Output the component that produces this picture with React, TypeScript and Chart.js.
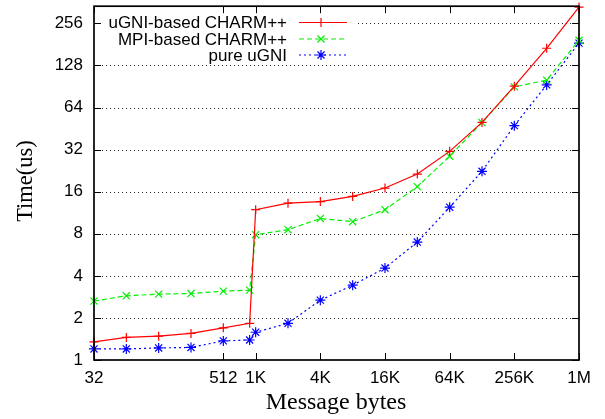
import React, { useEffect, useRef } from "react";
import { Chart, registerables } from "chart.js";
Chart.register(...registerables);

const messageBytes = [32, 64, 128, 256, 512, 900, 1024, 2048, 4096, 8192, 16384, 32768, 65536, 131072, 262144, 524288, 1048576];
const ugniCharm = [1.35, 1.45, 1.48, 1.55, 1.7, 1.83, 11.9, 13.25, 13.6, 14.8, 17.0, 21.4, 31.1, 50.1, 91, 170, 335];
const mpiCharm = [2.64, 2.88, 2.96, 2.99, 3.11, 3.16, 7.88, 8.56, 10.3, 9.76, 11.9, 17.4, 28.7, 50, 90, 100.5, 194];
const pureUgni = [1.2, 1.2, 1.22, 1.23, 1.37, 1.39, 1.58, 1.83, 2.68, 3.43, 4.55, 6.98, 12.4, 22.4, 47.5, 93, 185];
const seriesNames = ["uGNI-based CHARM++", "MPI-based CHARM++", "pure uGNI"];

const xTickValues = [32, 512, 1024, 4096, 16384, 65536, 262144, 1048576];
const xTickLabels = ["32", "512", "1K", "4K", "16K", "64K", "256K", "1M"];
const yTickValues = [1, 2, 4, 8, 16, 32, 64, 128, 256];
const yTickLabels = ["1", "2", "4", "8", "16", "32", "64", "128", "256"];

const xTitle = "Message bytes";
const yTitle = "Time(us)";

const colors = ["#ff0000", "#00f000", "#0000ff"];
const styles = ["cross", "crossRot", "star"];
const radii = [4.5, 5, 5];
const SANS = "'Liberation Sans', Arial, sans-serif";
const SERIF = "'Liberation Serif', 'Times New Roman', serif";

function dashFor(i: number): number[] {
  return i === 0 ? [] : i === 1 ? [5, 3] : [2, 3];
}

function drawMarker(ctx: CanvasRenderingContext2D, style: string, x: number, y: number, r: number) {
  ctx.beginPath();
  const d = r * Math.SQRT1_2;
  if (style === "cross" || style === "star") {
    ctx.moveTo(x - r, y); ctx.lineTo(x + r, y);
    ctx.moveTo(x, y - r); ctx.lineTo(x, y + r);
  }
  if (style === "crossRot" || style === "star") {
    ctx.moveTo(x - d, y - d); ctx.lineTo(x + d, y + d);
    ctx.moveTo(x - d, y + d); ctx.lineTo(x + d, y - d);
  }
  ctx.stroke();
}

export default function App() {
  const ref = useRef<HTMLCanvasElement>(null);
  useEffect(() => {
    if (!ref.current) return;
    const seriesData = [ugniCharm, mpiCharm, pureUgni];
    const datasets = seriesData.map((arr, i) => ({
      label: seriesNames[i],
      data: arr.map((v, j) => ({ x: messageBytes[j], y: v })),
      borderColor: colors[i],
      backgroundColor: colors[i],
      borderWidth: 1.2,
      borderDash: dashFor(i),
      pointStyle: styles[i],
      pointRadius: radii[i],
      pointBorderWidth: 1.2,
      pointBorderColor: colors[i],
      pointBackgroundColor: colors[i],
      tension: 0,
      fill: false,
      clip: false,
    }));

    const gridPlugin = {
      id: "gnuplotGrid",
      beforeDatasetsDraw(chart: any) {
        const ctx = chart.ctx as CanvasRenderingContext2D;
        const ca = chart.chartArea;
        const ys = chart.scales.y;
        ctx.save();
        ctx.strokeStyle = "#222";
        ctx.lineWidth = 1;
        ctx.setLineDash([1, 3]);
        for (const v of yTickValues) {
          if (v === 1) continue;
          const y = Math.round(ys.getPixelForValue(v)) + 0.5;
          ctx.beginPath();
          ctx.moveTo(ca.left, y);
          ctx.lineTo(ca.right, y);
          ctx.stroke();
        }
        ctx.setLineDash([]);
        ctx.fillStyle = "#fff";
        ctx.fillRect(101, 12, 255, 51);
        ctx.font = "17px " + SANS;
        ctx.textAlign = "right";
        ctx.textBaseline = "middle";
        const rowsY = [22.5, 39, 55];
        for (let i = 0; i < seriesNames.length; i++) {
          const y = rowsY[i];
          ctx.fillStyle = "#000";
          ctx.fillText(seriesNames[i], 287, y + 1);
          ctx.strokeStyle = colors[i];
          ctx.lineWidth = 1.2;
          ctx.setLineDash(dashFor(i));
          ctx.beginPath();
          ctx.moveTo(299, y);
          ctx.lineTo(347, y);
          ctx.stroke();
          ctx.setLineDash([]);
          drawMarker(ctx, styles[i], 321, y, radii[i]);
        }
        ctx.restore();
      },
      afterDraw(chart: any) {
        const ctx = chart.ctx as CanvasRenderingContext2D;
        const ca = chart.chartArea;
        const xs = chart.scales.x;
        const ys = chart.scales.y;
        ctx.save();
        ctx.strokeStyle = "#000";
        ctx.lineWidth = 1.7;
        ctx.setLineDash([]);
        ctx.strokeRect(ca.left, ca.top, ca.right - ca.left, ca.bottom - ca.top);
        ctx.lineWidth = 1;
        const tl = 7;
        ctx.beginPath();
        for (const v of xTickValues) {
          const x = Math.round(xs.getPixelForValue(v)) + 0.5;
          ctx.moveTo(x, ca.bottom); ctx.lineTo(x, ca.bottom - tl);
          ctx.moveTo(x, ca.top); ctx.lineTo(x, ca.top + tl);
        }
        for (const v of yTickValues) {
          const y = Math.round(ys.getPixelForValue(v)) + 0.5;
          ctx.moveTo(ca.left, y); ctx.lineTo(ca.left + tl, y);
          ctx.moveTo(ca.right, y); ctx.lineTo(ca.right - tl, y);
        }
        ctx.stroke();
        ctx.fillStyle = "#000";
        ctx.textAlign = "center";
        ctx.textBaseline = "alphabetic";
        ctx.font = "24px " + SERIF;
        ctx.fillText(xTitle, 336, 409);
        ctx.font = "22.5px " + SERIF;
        ctx.translate(32, 181);
        ctx.rotate(-Math.PI / 2);
        ctx.fillText(yTitle, 0, 0);
        ctx.restore();
      },
    };

    const chart = new Chart(ref.current, {
      type: "line",
      data: { datasets },
      options: {
        animation: false,
        responsive: false,
        devicePixelRatio: 1,
        layout: { padding: { top: 5, right: 26, left: 0, bottom: 0 } },
        plugins: { legend: { display: false }, tooltip: { enabled: false } },
        scales: {
          x: {
            type: "logarithmic",
            min: 32,
            max: 1048576,
            grid: { display: false, drawTicks: false },
            border: { display: false },
            afterBuildTicks: (s: any) => { s.ticks = xTickValues.map((v) => ({ value: v })); },
            afterFit: (s: any) => { s.height = 59; s.paddingLeft = 0; s.paddingRight = 0; },
            ticks: {
              autoSkip: false,
              maxRotation: 0,
              padding: 8,
              color: "#000",
              font: { family: SANS, size: 17 },
              callback: (v: any) => { const k = xTickValues.indexOf(Number(v)); return k >= 0 ? xTickLabels[k] : ""; },
            },
          },
          y: {
            type: "logarithmic",
            min: 1,
            max: 340,
            grid: { display: false, drawTicks: false },
            border: { display: false },
            afterBuildTicks: (s: any) => { s.ticks = yTickValues.map((v) => ({ value: v })); },
            afterFit: (s: any) => { s.width = 94; s.paddingTop = 0; s.paddingBottom = 0; },
            ticks: {
              autoSkip: false,
              padding: 11,
              color: "#000",
              font: { family: SANS, size: 17 },
              callback: (v: any) => { const k = yTickValues.indexOf(Number(v)); return k >= 0 ? yTickLabels[k] : ""; },
            },
          },
        },
      },
      plugins: [gridPlugin],
    } as any);
    return () => chart.destroy();
  }, []);
  return (
    <div style={{ position: "fixed", left: 0, top: 0, width: 605, height: 419, background: "#fff" }}>
      <canvas ref={ref} width={605} height={419} style={{ display: "block" }} />
    </div>
  );
}
